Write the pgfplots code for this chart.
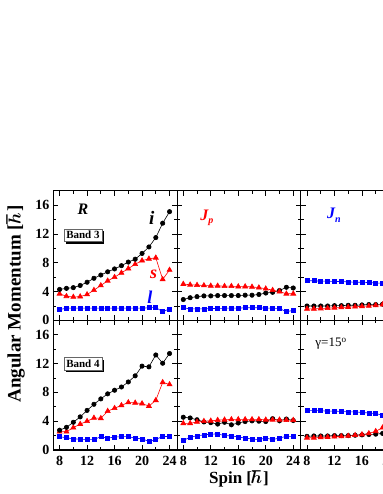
\documentclass[border=0pt]{standalone}
\usepackage{fontspec}
\setmainfont{Liberation Serif}
\usepackage{bm}
\usepackage{pgfplots}
\usepackage{pgfplotstable}
\pgfplotsset{compat=1.18}
\usetikzlibrary{shadows}

\pgfplotstableread{
spin k r b
8 4.3 3.7 1.5
9 4.45 3.35 1.7
10 4.55 3.25 1.7
11 4.85 3.3 1.7
12 5.3 3.6 1.7
13 5.85 4.2 1.7
14 6.3 4.85 1.7
15 6.75 5.5 1.7
16 7.15 6.0 1.7
17 7.6 6.6 1.7
18 8.1 7.2 1.7
19 8.5 7.8 1.7
20 9.3 8.3 1.7
21 10.2 8.55 1.75
22 11.5 8.7 1.8
23 13.5 5.7 1.2
24 15.1 7.0 1.6
}\RthreeTab

\pgfplotstableread{
spin k r b
8 2.9 5.05 1.75
9 3.15 4.95 1.6
10 3.3 4.9 1.6
11 3.4 4.85 1.6
12 3.4 4.8 1.65
13 3.45 4.8 1.65
14 3.45 4.75 1.7
15 3.45 4.75 1.7
16 3.45 4.7 1.7
17 3.5 4.7 1.75
18 3.5 4.65 1.75
19 3.6 4.55 1.75
20 3.8 4.4 1.7
21 3.9 4.2 1.7
22 4.15 4.0 1.65
23 4.6 3.7 1.2
24 4.5 3.7 1.4
}\Jpthree

\pgfplotstableread{
spin k r b
8 2.0 1.6 5.5
9 2.0 1.6 5.5
10 2.0 1.65 5.45
11 2.0 1.7 5.45
12 2.05 1.75 5.4
13 2.05 1.8 5.4
14 2.1 1.85 5.35
15 2.1 1.9 5.3
16 2.15 1.95 5.3
17 2.2 2.0 5.25
18 2.2 2.1 5.2
19 2.25 2.2 5.15
20 2.3 2.3 5.1
21 2.35 2.4 5.05
22 2.4 2.5 5.0
23 2.45 2.6 4.95
24 2.5 2.7 4.9
}\Jnthree

\pgfplotstableread{
spin k r b
8 2.75 2.55 1.85
9 3.15 2.55 1.7
10 3.85 3.1 1.55
11 4.6 3.6 1.5
12 5.5 4.0 1.45
13 6.35 4.45 1.45
14 7.1 4.4 1.85
15 7.8 5.4 1.65
16 8.3 5.8 1.8
17 8.75 6.2 1.85
18 9.45 6.6 1.85
19 10.3 6.55 1.65
20 11.65 6.45 1.55
21 11.55 6.1 1.2
22 13.2 6.9 1.45
23 12.05 9.4 1.9
24 13.4 9.1 1.85
}\Rfour

\pgfplotstableread{
spin k r b
8 4.55 3.7 1.3
9 4.45 3.7 1.8
10 4.2 3.9 1.97
11 3.9 4.0 2.1
12 3.8 4.05 2.2
13 3.6 4.15 2.23
14 3.85 4.2 2.0
15 3.5 4.25 1.97
16 3.75 4.25 1.8
17 3.95 4.25 1.67
18 4.05 4.25 1.53
19 4.0 4.25 1.44
20 3.95 4.2 1.67
21 4.35 4.2 1.44
22 4.05 4.2 1.67
23 4.3 4.15 1.9
24 4.1 4.15 1.9
}\Jpfour

\pgfplotstableread{
spin k r b
8 1.9 1.7 5.5
9 1.95 1.7 5.5
10 1.95 1.75 5.45
11 1.95 1.8 5.4
12 2.0 1.85 5.4
13 2.0 1.9 5.35
14 2.0 1.95 5.3
15 2.05 2.05 5.3
16 2.1 2.15 5.2
17 2.15 2.3 5.15
18 2.2 2.6 5.05
19 2.3 3.1 4.85
20 2.4 3.6 4.6
21 2.5 4.1 4.4
22 2.6 4.5 4.2
23 2.7 4.9 4.0
24 2.8 5.2 3.8
}\Jnfour

\pgfplotsset{
  panel/.style={
    scale only axis, width=123.7pt, height=129.6pt,
    anchor=south west,
    xmin=7.1, xmax=25.1, ymin=0, ymax=18,
    xtick={8,12,16,20,24}, ytick={0,4,8,12,16},
    minor xtick={10,14,18,22}, minor ytick={2,6,10,14},
    tick align=inside,
    major tick length=5pt, minor tick length=3pt,
    every tick/.style={line width=0.9pt, black},
    axis line style={line width=1.2pt},
    ticklabel style={font=\bfseries\fontsize{14}{15}\selectfont},
    xticklabel style={yshift=-3pt},
    yticklabel style={xshift=-0.5pt},
    /pgf/number format/assume math mode=true,
    clip=false,
  },
  ks/.style={black, line width=0.6pt, mark=*, mark size=2.2pt, mark options={solid}},
  rs/.style={red, line width=0.6pt, mark=triangle*, mark size=2.9pt, mark options={solid}},
  bs/.style={blue, line width=0.6pt, mark=square*, mark size=2pt, mark options={solid}},
}
\tikzset{
  bandbox/.style={draw=black!60, line width=0.4pt, fill=white, inner sep=2.3pt,
     font=\bfseries\fontsize{11}{12}\selectfont,
     drop shadow={shadow xshift=2.4pt, shadow yshift=-2.4pt, fill=black, opacity=1}},
  lab/.style={font=\bfseries\itshape\fontsize{16}{18}\selectfont},
}

\begin{document}
\begin{tikzpicture}
% Row 1
\begin{axis}[panel, at={(53.4pt,173.6pt)}, xticklabels={}]
\addplot[bs] table[x=spin,y=b] {\RthreeTab};
\addplot[rs] table[x=spin,y=r] {\RthreeTab};
\addplot[ks] table[x=spin,y=k] {\RthreeTab};
\node[lab] at (axis cs:11.4,15.5) {R};
\node[lab, font=\bfseries\itshape\fontsize{19}{20}\selectfont] at (axis cs:21.4,14.2) {i};
\node[lab, red, font=\bfseries\itshape\fontsize{18}{20}\selectfont] at (axis cs:21.7,6.4) {s};
\node[lab, blue, font=\bfseries\itshape\fontsize{18}{20}\selectfont] at (axis cs:21.15,3.2) {l};
\node[bandbox] at (axis cs:11.4,11.85) {Band 3};
\end{axis}
\begin{axis}[panel, at={(177.1pt,173.6pt)}, xticklabels={}, yticklabels={}]
\addplot[bs] table[x=spin,y=b] {\Jpthree};
\addplot[ks] table[x=spin,y=k] {\Jpthree};
\addplot[rs] table[x=spin,y=r] {\Jpthree};
\node[lab, red] at (axis cs:11.45,14.2) {J\raisebox{-0.45ex}{\fontsize{10}{10}\selectfont p}};
\end{axis}
\begin{axis}[panel, at={(300.8pt,173.6pt)}, xticklabels={}, yticklabels={}]
\addplot[bs] table[x=spin,y=b] {\Jnthree};
\addplot[ks] table[x=spin,y=k] {\Jnthree};
\addplot[rs] table[x=spin,y=r] {\Jnthree};
\node[lab, blue] at (axis cs:11.9,14.6) {J\raisebox{-0.45ex}{\fontsize{10}{10}\selectfont n}};
\end{axis}
% Row 2
\begin{axis}[panel, at={(53.4pt,44pt)}]
\addplot[bs] table[x=spin,y=b] {\Rfour};
\addplot[rs] table[x=spin,y=r] {\Rfour};
\addplot[ks] table[x=spin,y=k] {\Rfour};
\node[bandbox] at (axis cs:11.4,12.0) {Band 4};
\end{axis}
\begin{axis}[panel, at={(177.1pt,44pt)}, yticklabels={}]
\addplot[bs] table[x=spin,y=b] {\Jpfour};
\addplot[ks] table[x=spin,y=k] {\Jpfour};
\addplot[rs] table[x=spin,y=r] {\Jpfour};
\end{axis}
\begin{axis}[panel, at={(300.8pt,44pt)}, yticklabels={}]
\addplot[bs] table[x=spin,y=b] {\Jnfour};
\addplot[ks] table[x=spin,y=k] {\Jnfour};
\addplot[rs] table[x=spin,y=r] {\Jnfour};
\node[font=\fontsize{13}{14}\selectfont] at (axis cs:11.5,14.8) {γ=15\textsuperscript{o}};
\end{axis}
\node[rotate=90, font=\bfseries\fontsize{19}{20}\selectfont] at (15.5pt,190pt) {Angular Momentum [$\bm{\hbar}$\kern1pt]};
\node[font=\bfseries\fontsize{17}{18}\selectfont] at (239pt,15pt) {Spin [$\bm{\hbar}$\kern1pt]};
\pgfresetboundingbox
\useasboundingbox (0pt,0pt) rectangle (382pt,494pt);
\end{tikzpicture}
\end{document}
